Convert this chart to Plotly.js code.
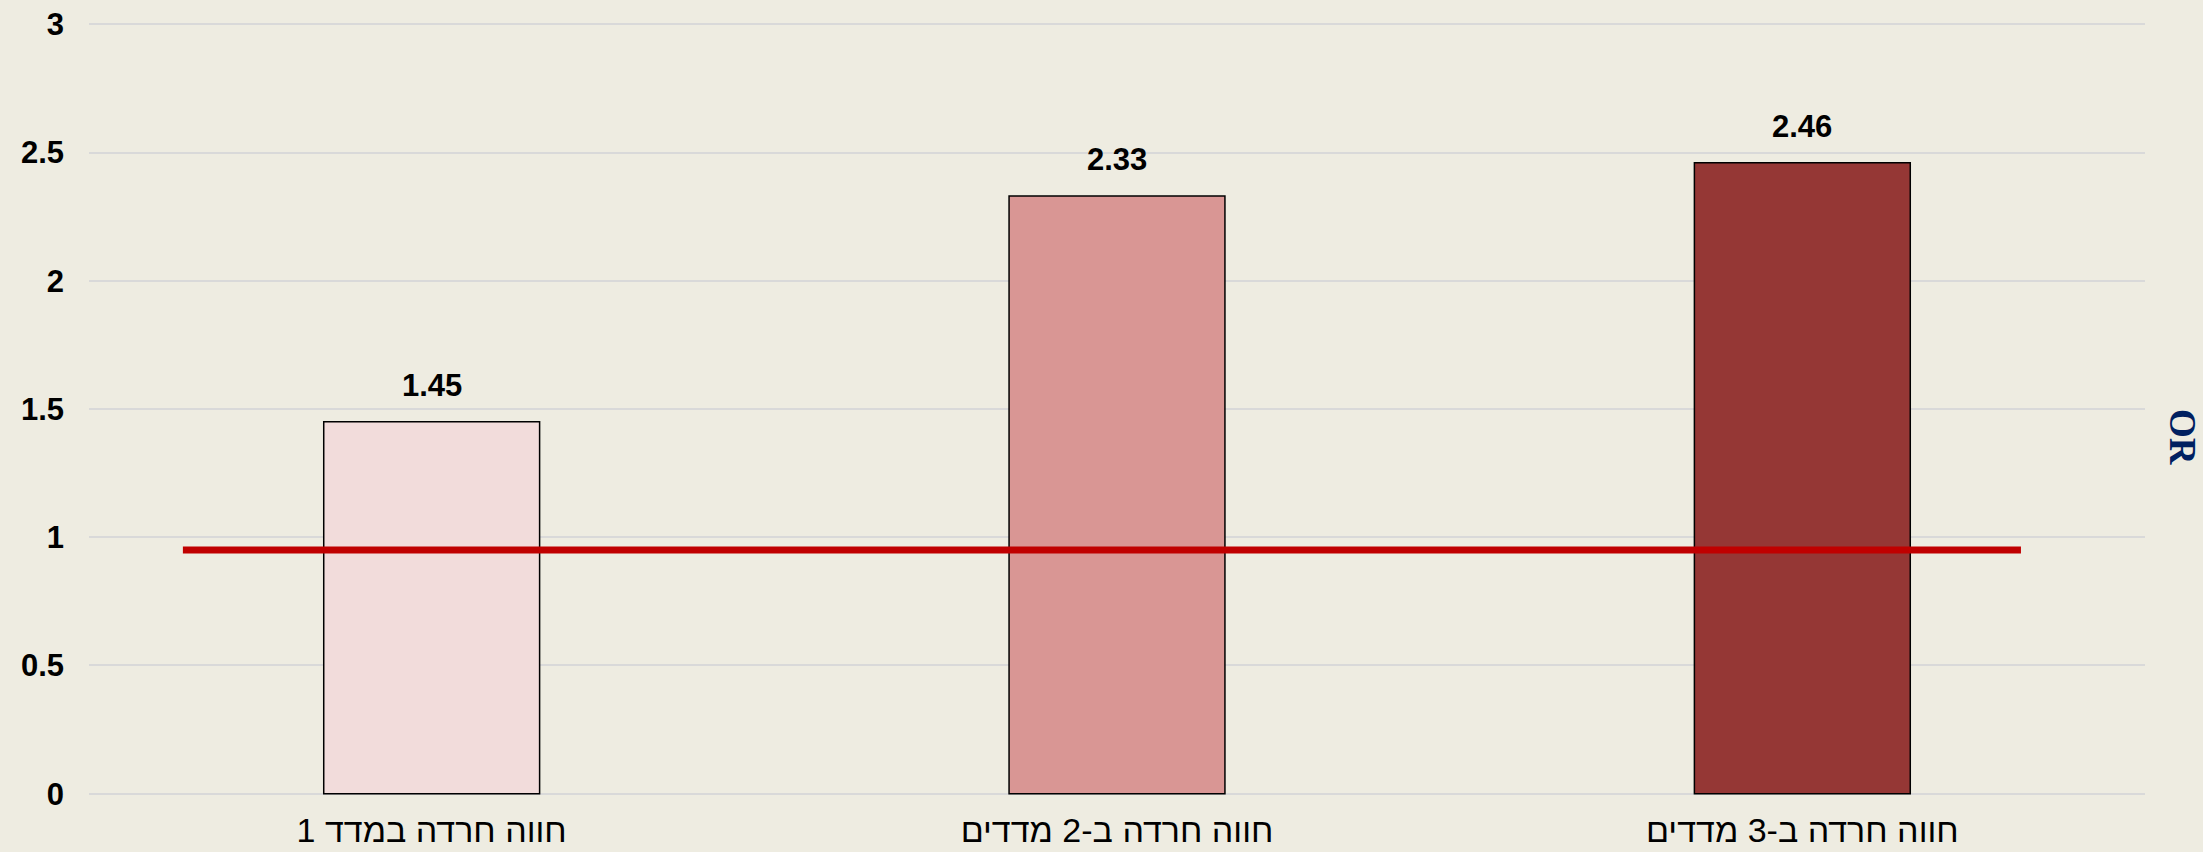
<!DOCTYPE html>
<html>
<head>
<meta charset="utf-8">
<script src="https://cdn.plot.ly/plotly-3.0.1.min.js"></script>
<style>
  html, body { margin: 0; padding: 0; background: #EEECE1; }
  #chart { width: 2203px; height: 852px; }
</style>
</head>
<body>
<div id="chart"></div>
<script>
// ---- data ----
const categories = ["חווה חרדה במדד 1", "חווה חרדה ב-2 מדדים", "חווה חרדה ב-3 מדדים"];
const categoryPos = [0, 1, 2];
const orValues = [1.45, 2.33, 2.46];
const valueLabels = ["1.45", "2.33", "2.46"];
const barColors = ["#F2DCDB", "#D99694", "#953735"];
const refLineX = [-0.363, 2.319];
const refLineY = [0.95, 0.95];
const yTickVals = [0, 0.5, 1, 1.5, 2, 2.5, 3];
const yTickText = ["0", "0.5", "1", "1.5", "2", "2.5", "3"];
const yAxisLabel = "OR";

const barTrace = {
  type: "bar",
  x: categoryPos,
  y: orValues,
  width: 0.315,
  marker: { color: barColors, line: { color: "#000000", width: 1.5 } },
  hoverinfo: "skip",
  showlegend: false
};

const lineTrace = {
  type: "scatter",
  mode: "lines",
  x: refLineX,
  y: refLineY,
  line: { color: "#C00000", width: 7 },
  hoverinfo: "skip",
  showlegend: false
};

const annotations = orValues.map((v, i) => ({
  x: categoryPos[i], y: v, xref: "x", yref: "y",
  text: valueLabels[i], showarrow: false,
  yanchor: "bottom", yshift: 17,
  font: { family: "Liberation Sans, Arial, sans-serif", size: 31, color: "#000000", weight: "bold" }
}));
annotations.push({
  x: 1.0185, y: 0.4636, xref: "paper", yref: "paper",
  text: "<b>" + yAxisLabel + "</b>", showarrow: false, textangle: 90,
  xanchor: "center", yanchor: "middle",
  font: { family: "Liberation Serif, Times New Roman, serif", size: 37, color: "#002060" }
});

const layout = {
  width: 2203, height: 852,
  paper_bgcolor: "#EEECE1",
  plot_bgcolor: "#EEECE1",
  margin: { l: 89, r: 58, t: 23, b: 57 },
  xaxis: {
    type: "linear",
    range: [-0.5, 2.5],
    tickvals: categoryPos,
    ticktext: categories,
    showgrid: false, zeroline: false, showline: false, ticks: "",
    ticklabelstandoff: 12,
    tickfont: { family: "Liberation Sans, Arial, sans-serif", size: 34, color: "#000000" }
  },
  yaxis: {
    range: [-0.005, 3.005],
    tickvals: yTickVals,
    ticktext: yTickText,
    showgrid: true, gridcolor: "#D9D9D9", gridwidth: 2,
    zeroline: false, showline: false, ticks: "",
    ticklabelstandoff: 24,
    tickfont: { family: "Liberation Sans, Arial, sans-serif", size: 31, color: "#000000", weight: "bold" }
  },
  annotations: annotations
};

Plotly.newPlot("chart", [barTrace, lineTrace], layout, { displayModeBar: false, staticPlot: true });
</script>
</body>
</html>
